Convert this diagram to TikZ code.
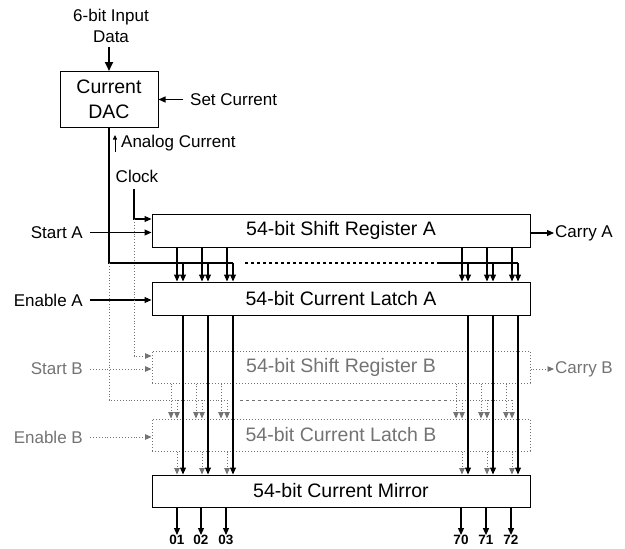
\documentclass[tikz,border=0pt]{standalone}
\usepackage{fontspec}
\setmainfont{Liberation Sans}
\usetikzlibrary{arrows.meta,positioning}

\begin{document}
\begin{tikzpicture}[x=1pt,y=-1pt]
\tikzset{
  blockbox/.style={draw,line width=1pt,minimum width=378pt,minimum height=33pt,inner sep=0pt,font=\fontsize{19.5}{23}\selectfont},
  ghostbox/.style={blockbox,draw=black!55,dotted,text=black!55},
  sidelabel/.style={inner sep=0pt,font=\fontsize{17}{21}\selectfont},
  ghostlabel/.style={sidelabel,text=black!55},
  outlabel/.style={inner sep=0pt,font=\fontsize{13.5}{15}\selectfont\bfseries},
  wire/.style={line width=1.1pt},
  signal/.style={wire,-{Triangle[length=7pt,width=6pt]}},
  ghostwire/.style={line width=0.9pt,draw=black!55,dotted},
  ghostsignal/.style={ghostwire,-{Triangle[length=6.5pt,width=5.5pt]}}
}
\useasboundingbox (0,0) rectangle (625,549);

% DAC and its inputs
\node[draw,line width=1pt,minimum width=98pt,minimum height=56pt,inner sep=0pt,align=center,
  font=\fontsize{19.5}{25}\selectfont] (dac) at (109,99.5) {Current\\DAC};
\node[sidelabel,align=center] (input) at (111,25.5) {6-bit Input\\Data};
\coordinate (inputtail) at (109,47);
\draw[line width=2.2pt,-{Triangle[length=9pt,width=8pt]}] (inputtail) -- (dac.north);
\node[sidelabel,anchor=west] (setcur) at (190,99.5) {Set Current};
\draw[signal,shorten <=7pt] (setcur.west) -- (dac.east);
\node[sidelabel,anchor=west] (analog) at (121,143) {Analog Current};
\draw[line width=0.8pt,-{Triangle[length=4.5pt,width=4pt]}] ([xshift=-6pt,yshift=-9pt]analog.west) -- ([xshift=-6pt,yshift=8pt]analog.west);
\node[sidelabel] (clock) at (137,176) {Clock};
\coordinate (clktop) at (134,189);

% blocks
\node[blockbox] (sra) at (341,230.5) {54-bit Shift Register A};
\node[blockbox] (la) at (341,298.5) {54-bit Current Latch A};
\node[ghostbox,minimum height=32pt] (srb) at (341,367) {54-bit Shift Register B};
\node[ghostbox,minimum height=32pt] (lb) at (341,435) {54-bit Current Latch B};
\node[blockbox,minimum height=32pt] (mir) at (341,491) {54-bit Current Mirror};

% side signals A
\node[sidelabel,anchor=east] (starta) at (83,232.5) {Start A};
\draw[signal] ([xshift=7pt]starta.east) -- (starta.east -| sra.west);
\node[sidelabel,anchor=east] (enablea) at (83,300) {Enable A};
\draw[signal] ([xshift=7pt]enablea.east) -- (enablea.east -| la.west);
\node[sidelabel,anchor=west] (carrya) at (555,233) {Carry A};
\draw[signal] (carrya.west -| sra.east) -- ([xshift=-1pt]carrya.west);
\draw[signal] (clktop) |- ([yshift=11.5pt]sra.west);

% side signals B
\node[ghostlabel,anchor=east] (startb) at (83,369) {Start B};
\draw[ghostsignal] ([xshift=7pt]startb.east) -- (startb.east -| srb.west);
\node[ghostlabel,anchor=east] (enableb) at (83,437) {Enable B};
\draw[ghostsignal] ([xshift=7pt]enableb.east) -- (enableb.east -| lb.west);
\node[ghostlabel,anchor=west] (carryb) at (555,369) {Carry B};
\draw[ghostsignal] (carryb.west -| srb.east) -- ([xshift=-1pt]carryb.west);
\draw[ghostsignal] ([yshift=11.5pt]sra.west -| clktop) |- ([yshift=11pt]srb.west);

% analog current buses
\coordinate (busa) at (109,263);
\coordinate (busb) at (109,400);
\draw[wire] (dac.south) |- (233,263);
\draw[wire,dash pattern=on 3pt off 3pt] (245,263) -- (440,263);
\draw[wire] (440,263) -- (518,263);
\draw[ghostwire] (busa) |- (226,400);
\draw[ghostwire,dash pattern=on 3pt off 3pt] (240,400) -- (450,400);
\draw[ghostwire] (450,400) -- (511,400);

% bit lines
\foreach \x [evaluate=\x as \xr using \x+6, evaluate=\x as \xl using \x-6] in {177,202,227,462,487,512} {
  \draw[signal] (\x,0 |- sra.south) -- (\x,0 |- la.north);
  \draw[signal] (\xr,263) -- (\xr,0 |- la.north);
  \draw[ghostsignal] (\xl,0 |- srb.south) -- (\xl,0 |- lb.north);
  \draw[ghostsignal] (\x,400) -- (\x,0 |- lb.north);
  \draw[ghostsignal] (\x,0 |- lb.south) -- (\x,0 |- mir.north);
  \draw[signal] (\xr,0 |- la.south) -- (\xr,0 |- mir.north);
}

% outputs
\foreach \x/\lbl in {177/01,201/02,226/03,461/70,486/71,511/72} {
  \node[outlabel] (out\lbl) at (\x,540) {\lbl};
  \draw[signal] (\x,0 |- mir.south) -- (out\lbl.north);
}
\end{tikzpicture}
\end{document}
